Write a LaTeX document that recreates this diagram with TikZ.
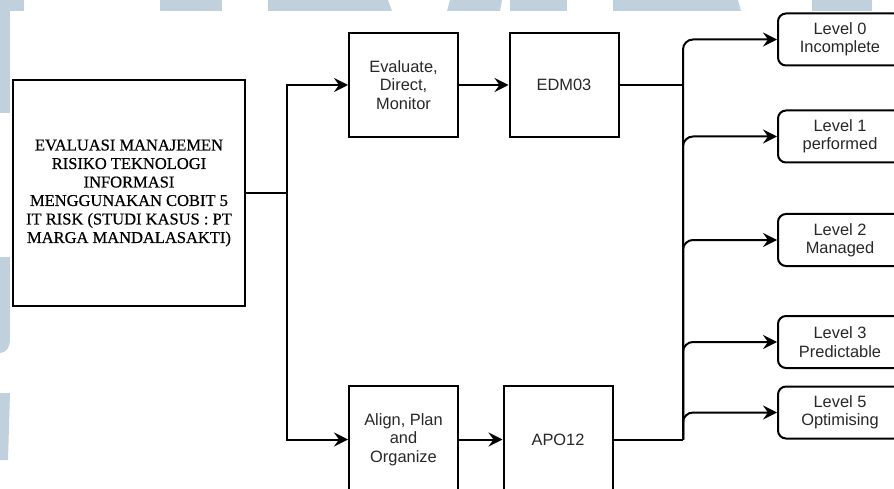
\documentclass[tikz,border=0pt]{standalone}
\usepackage{fontspec}
\setmainfont{Liberation Serif}
\setsansfont{Liberation Sans}
\newfontfamily\titlefont[FakeBold=0.6]{Liberation Serif}
\usetikzlibrary{arrows.meta}
\definecolor{wm}{RGB}{193,208,221}
\definecolor{txt}{RGB}{40,40,40}
\tikzset{
  box/.style={draw=black, line width=2pt, inner sep=0pt, align=center, text=txt,
    font=\sffamily\fontsize{16.4}{18.4}\selectfont},
  lvl/.style={box, rounded corners=8pt, minimum width=124pt, minimum height=52pt},
  ln/.style={line width=2pt},
  arr/.style={line width=2pt, -{Stealth[length=14pt,width=14pt,inset=5pt]}},
}
\begin{document}
\begin{tikzpicture}[x=1pt,y=-1pt]
\useasboundingbox (0,0) rectangle (894,489);
\clip (0,0) rectangle (894,489);
% watermark strips
\fill[wm] (0,0) rectangle (24,11);
\fill[wm] (160,0) rectangle (222,11);
\fill[wm] (268,0) -- (388,0) -- (392,11) -- (268,11) -- cycle;
\fill[wm] (450,0) -- (502,0) -- (500,11) -- (447,11) -- cycle;
\fill[wm] (510,0) rectangle (567,11);
\fill[wm] (613,0) -- (738,0) -- (741,11) -- (613,11) -- cycle;
\fill[wm] (812,0) rectangle (872,11);
\fill[wm] (0,0) rectangle (10,113);
\fill[wm] (0,257) -- (10,257) -- (10,340) to[out=-90,in=0] (0,353) -- cycle;
\fill[wm] (0,393) -- (10,393) -- (8,460) -- (0,460) -- cycle;
\fill[white] (10,11) rectangle (894,489);

% nodes
\node[box, minimum width=232pt, minimum height=225pt,
  font=\titlefont\fontsize{16.5}{18.5}\selectfont, text=black] (main) at (129,193)
  {EVALUASI MANAJEMEN\\RISIKO TEKNOLOGI\\INFORMASI\\MENGGUNAKAN COBIT 5\\IT RISK (STUDI KASUS : PT\\MARGA MANDALASAKTI)};
\node[box, minimum width=109pt, minimum height=104pt] (edm) at (403.5,85) {Evaluate,\\Direct,\\Monitor};
\node[box, minimum width=109pt, minimum height=104pt] (edm03) at (564,85) {EDM03};
\node[box, minimum width=109pt, minimum height=108pt] (apo) at (403.5,439.5) {Align, Plan\\and\\Organize};
\node[box, minimum width=109pt, minimum height=108pt] (apo12) at (558,439.5) {APO12};

\node[lvl] (l0) at (840,39.5) {Level 0\\Incomplete};
\node[lvl] (l1) at (840,136.5) {Level 1\\performed};
\node[lvl] (l2) at (840,240) {Level 2\\Managed};
\node[lvl] (l3) at (840,342) {Level 3\\Predictable};
\node[lvl] (l5) at (840,412.5) {Level 5\\Optimising};

% junction coordinates
\coordinate (jl) at (287,193);
\coordinate (tb) at (683,439.5);

% connectors
\draw[arr] (main.east) -- (jl) |- (edm.west);
\draw[arr] (jl) |- (apo.west);
\draw[arr] (edm.east) -- (edm03.west);
\draw[arr] (apo.east) -- (apo12.west);
\draw[ln] (edm03.east) -- (edm03.east -| tb);
\draw[ln] (apo12.east) -- (tb);
\foreach \n in {l0,l1,l2,l3,l5}
  \draw[arr, rounded corners=10pt] (tb) |- (\n.west);
\end{tikzpicture}
\end{document}
